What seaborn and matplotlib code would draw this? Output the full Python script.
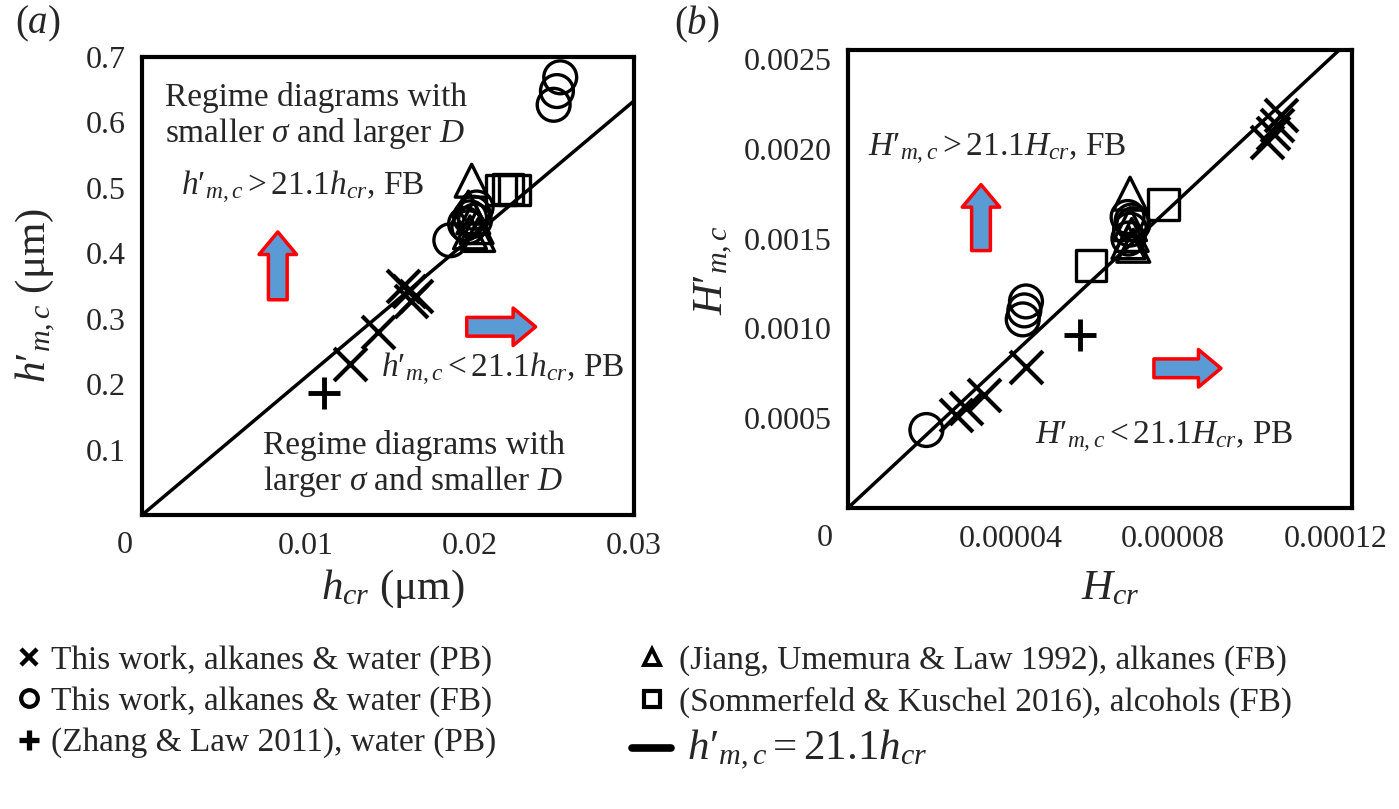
import matplotlib
matplotlib.use("Agg")
import numpy as np
import matplotlib.pyplot as plt
from matplotlib.lines import Line2D
import seaborn as sns

# ---- panel (a): dimensional film thickness (um) ----
a_x_pb_hcr = [0.0127, 0.0144, 0.0159, 0.0163, 0.0167, 0.0164]
a_x_pb_hm = [0.231, 0.280, 0.350, 0.342, 0.334, 0.327]
a_o_fb_hcr = [0.0255, 0.0253, 0.0251, 0.0188, 0.0197, 0.0200, 0.0202, 0.0204, 0.0199, 0.0203]
a_o_fb_hm = [0.669, 0.648, 0.627, 0.420, 0.445, 0.455, 0.462, 0.470, 0.440, 0.450]
a_zhang_hcr = [0.0111]
a_zhang_hm = [0.187]
a_jiang_hcr = [0.0201, 0.0199, 0.0202, 0.0204, 0.0200, 0.0205]
a_jiang_hm = [0.511, 0.470, 0.455, 0.440, 0.432, 0.428]
a_somm_hcr = [0.0219, 0.0223, 0.0227]
a_somm_hm = [0.497, 0.498, 0.497]

# ---- panel (b): non-dimensional ----
b_x_pb_hcr = [0.0000266, 0.0000290, 0.0000334, 0.0000439, 0.0001030, 0.0001045, 0.0001055, 0.0001065]
b_x_pb_hm = [0.000519, 0.000555, 0.000630, 0.000783, 0.00204, 0.00209, 0.00213, 0.00219]
b_o_fb_hcr = [0.0000193, 0.0000430, 0.0000434, 0.0000438, 0.0000690, 0.0000694, 0.0000698, 0.0000702, 0.0000688]
b_o_fb_hm = [0.000434, 0.00105, 0.00110, 0.00115, 0.00150, 0.00155, 0.00160, 0.00158, 0.00162]
b_zhang_hcr = [0.0000571]
b_zhang_hm = [0.000962]
b_jiang_hcr = [0.0000694, 0.0000690, 0.0000698, 0.0000702, 0.0000694]
b_jiang_hm = [0.00175, 0.00148, 0.00152, 0.00146, 0.00158]
b_somm_hcr = [0.0000598, 0.0000776]
b_somm_hm = [0.00135, 0.00169]

SLOPE = 21.1
a_line_x = [0.0, 0.03]
b_line_x = [0.0, 0.000124]

a_xticks = [0.01, 0.02, 0.03]
a_xticklabels = ["0.01", "0.02", "0.03"]
a_yticks = [0.1, 0.2, 0.3, 0.4, 0.5, 0.6, 0.7]
a_yticklabels = ["0.1", "0.2", "0.3", "0.4", "0.5", "0.6", "0.7"]
b_xticks = [0.00004, 0.00008, 0.00012]
b_xticklabels = ["0.00004", "0.00008", "0.00012"]
b_yticks = [0.0005, 0.0010, 0.0015, 0.0020, 0.0025]
b_yticklabels = ["0.0005", "0.0010", "0.0015", "0.0020", "0.0025"]

legend_labels = [
    "This work, alkanes & water (PB)",
    "This work, alkanes & water (FB)",
    "(Zhang & Law 2011), water (PB)",
    "(Jiang, Umemura & Law 1992), alkanes (FB)",
    "(Sommerfeld & Kuschel 2016), alcohols (FB)",
    r"$\;h\prime_{m,c} = 21.1h_{cr}$",
]

sns.set_theme(style="white")
plt.rcParams["font.family"] = ["Liberation Serif", "DejaVu Serif"]
plt.rcParams["mathtext.fontset"] = "custom"
plt.rcParams["mathtext.rm"] = "Liberation Serif"
plt.rcParams["mathtext.it"] = "Liberation Serif:italic"
plt.rcParams["mathtext.bf"] = "Liberation Serif:bold"

fig = plt.figure(figsize=(13.99, 8.09), dpi=100)
ax_a = fig.add_axes([0.1015, 0.3634, 0.3517, 0.5661])
ax_b = fig.add_axes([0.6061, 0.3721, 0.3603, 0.5661])

MS = 560
BLUE = "#5B9BD5"
TICK_FS = 23
NOTE_FS = 24
LABEL_FS = 31


def draw_points(ax, series):
    for xs, ys, mk, size, lw in series:
        if mk in ("x", "+"):
            sns.scatterplot(x=xs, y=ys, marker=mk, color="black", s=size,
                            linewidth=lw, ax=ax, zorder=3)
        else:
            sns.scatterplot(x=xs, y=ys, marker=mk, facecolor="none",
                            edgecolor="black", s=size, linewidth=lw, ax=ax, zorder=3)


def arrow(ax, start, end):
    ax.annotate("", xy=end, xytext=start, xycoords="axes fraction",
                textcoords="axes fraction",
                arrowprops=dict(arrowstyle="simple,head_length=0.3,head_width=0.5,tail_width=0.25",
                                mutation_scale=54, fc=BLUE, ec="red", lw=2.5,
                                shrinkA=0, shrinkB=0))


# panel (a)
ax = ax_a
lx = np.array(a_line_x)
sns.lineplot(x=lx, y=SLOPE * lx, color="black", linewidth=2.5, ax=ax, zorder=2)
draw_points(ax, [
    (a_x_pb_hcr, a_x_pb_hm, "x", MS, 3.0),
    (a_o_fb_hcr, a_o_fb_hm, "o", MS, 2.4),
    (a_zhang_hcr, a_zhang_hm, "+", MS, 3.5),
    (a_jiang_hcr, a_jiang_hm, "^", MS, 2.4),
    (a_somm_hcr, a_somm_hm, "s", 480, 2.4),
])
ax.set_xlim(0, 0.03)
ax.set_ylim(0, 0.7)
ax.set_xticks(a_xticks, a_xticklabels)
ax.set_yticks(a_yticks, a_yticklabels)
ax.text(-0.035, -0.035, "0", transform=ax.transAxes, ha="center", va="top", fontsize=TICK_FS)
ax.set_xlabel(r"$h_{cr}$ ($\mathrm{\mu}$m)", fontsize=LABEL_FS)
ax.set_ylabel(r"$h\prime_{m,c}$ ($\mathrm{\mu}$m)", fontsize=LABEL_FS)
ax.xaxis.set_label_coords(0.51, -0.115)
ax.yaxis.set_label_coords(-0.17, 0.48)
ax.text(0.047, 0.945, "Regime diagrams with\nsmaller $\\sigma$ and larger $D$",
        transform=ax.transAxes, ha="left", va="top", fontsize=NOTE_FS, linespacing=1.1)
ax.text(0.08, 0.716, r"$h\prime_{m,c} > 21.1h_{cr}$, FB", transform=ax.transAxes,
        ha="left", va="center", fontsize=NOTE_FS)
ax.text(0.485, 0.317, r"$h\prime_{m,c} < 21.1h_{cr}$, PB", transform=ax.transAxes,
        ha="left", va="center", fontsize=NOTE_FS)
ax.text(0.246, 0.185, "Regime diagrams with\nlarger $\\sigma$ and smaller $D$",
        transform=ax.transAxes, ha="left", va="top", fontsize=NOTE_FS, linespacing=1.1)
arrow(ax, (0.276, 0.47), (0.276, 0.618))
arrow(ax, (0.66, 0.411), (0.80, 0.411))

# panel (b)
ax = ax_b
lx = np.array(b_line_x)
sns.lineplot(x=lx, y=SLOPE * lx, color="black", linewidth=2.5, ax=ax, zorder=2)
draw_points(ax, [
    (b_x_pb_hcr, b_x_pb_hm, "x", MS, 3.0),
    (b_o_fb_hcr, b_o_fb_hm, "o", MS, 2.4),
    (b_zhang_hcr, b_zhang_hm, "+", MS, 3.5),
    (b_jiang_hcr, b_jiang_hm, "^", MS, 2.4),
    (b_somm_hcr, b_somm_hm, "s", 480, 2.4),
])
ax.set_xlim(0, 0.000124)
ax.set_ylim(0, 0.00255)
ax.set_xticks(b_xticks, b_xticklabels)
ax.set_yticks(b_yticks, b_yticklabels)
ax.text(-0.046, -0.035, "0", transform=ax.transAxes, ha="center", va="top", fontsize=TICK_FS)
ax.set_xlabel(r"$H_{cr}$", fontsize=LABEL_FS)
ax.set_ylabel(r"$H\prime_{m,c}$", fontsize=LABEL_FS)
ax.xaxis.set_label_coords(0.52, -0.135)
ax.yaxis.set_label_coords(-0.225, 0.52)
ax.text(0.04, 0.784, r"$H\prime_{m,c} > 21.1H_{cr}$, FB", transform=ax.transAxes,
        ha="left", va="center", fontsize=NOTE_FS)
ax.text(0.372, 0.155, r"$H\prime_{m,c} < 21.1H_{cr}$, PB", transform=ax.transAxes,
        ha="left", va="center", fontsize=NOTE_FS)
arrow(ax, (0.264, 0.562), (0.264, 0.706))
arrow(ax, (0.607, 0.305), (0.74, 0.305))

for ax in (ax_a, ax_b):
    ax.tick_params(axis="both", length=0, labelsize=TICK_FS, pad=12)
    for sp in ax.spines.values():
        sp.set_visible(True)
        sp.set_color("black")
        sp.set_linewidth(3)
    ax.grid(False)

fig.text(38 / 1399, 1 - 24 / 809, "($a$)", ha="center", va="center", fontsize=28)
fig.text(697 / 1399, 1 - 24 / 809, "($b$)", ha="center", va="center", fontsize=28)

handles = [
    Line2D([], [], marker="x", color="black", linestyle="none", markersize=12, markeredgewidth=3.2),
    Line2D([], [], marker="o", color="black", mfc="none", linestyle="none", markersize=12, markeredgewidth=3),
    Line2D([], [], marker="+", color="black", linestyle="none", markersize=15, markeredgewidth=3.8),
    Line2D([], [], marker="^", color="black", mfc="none", linestyle="none", markersize=12, markeredgewidth=2.8),
    Line2D([], [], marker="s", color="black", mfc="none", linestyle="none", markersize=12, markeredgewidth=3),
    Line2D([], [], color="black", linewidth=5.5),
]

leg1 = fig.legend(handles[:3], legend_labels[:3], loc="upper left",
                  bbox_to_anchor=(0.01, 0.203), frameon=False, fontsize=NOTE_FS,
                  handlelength=0.9, handletextpad=0.2, labelspacing=0.32,
                  borderaxespad=0, borderpad=0)
leg2 = fig.legend(handles[3:], legend_labels[3:], loc="upper left",
                  bbox_to_anchor=(0.452, 0.203), frameon=False, fontsize=NOTE_FS,
                  handlelength=1.15, handletextpad=0.25, labelspacing=0.32,
                  borderaxespad=0, borderpad=0)
leg2.get_texts()[2].set_fontsize(LABEL_FS)

fig.savefig("out.png", dpi=100)
